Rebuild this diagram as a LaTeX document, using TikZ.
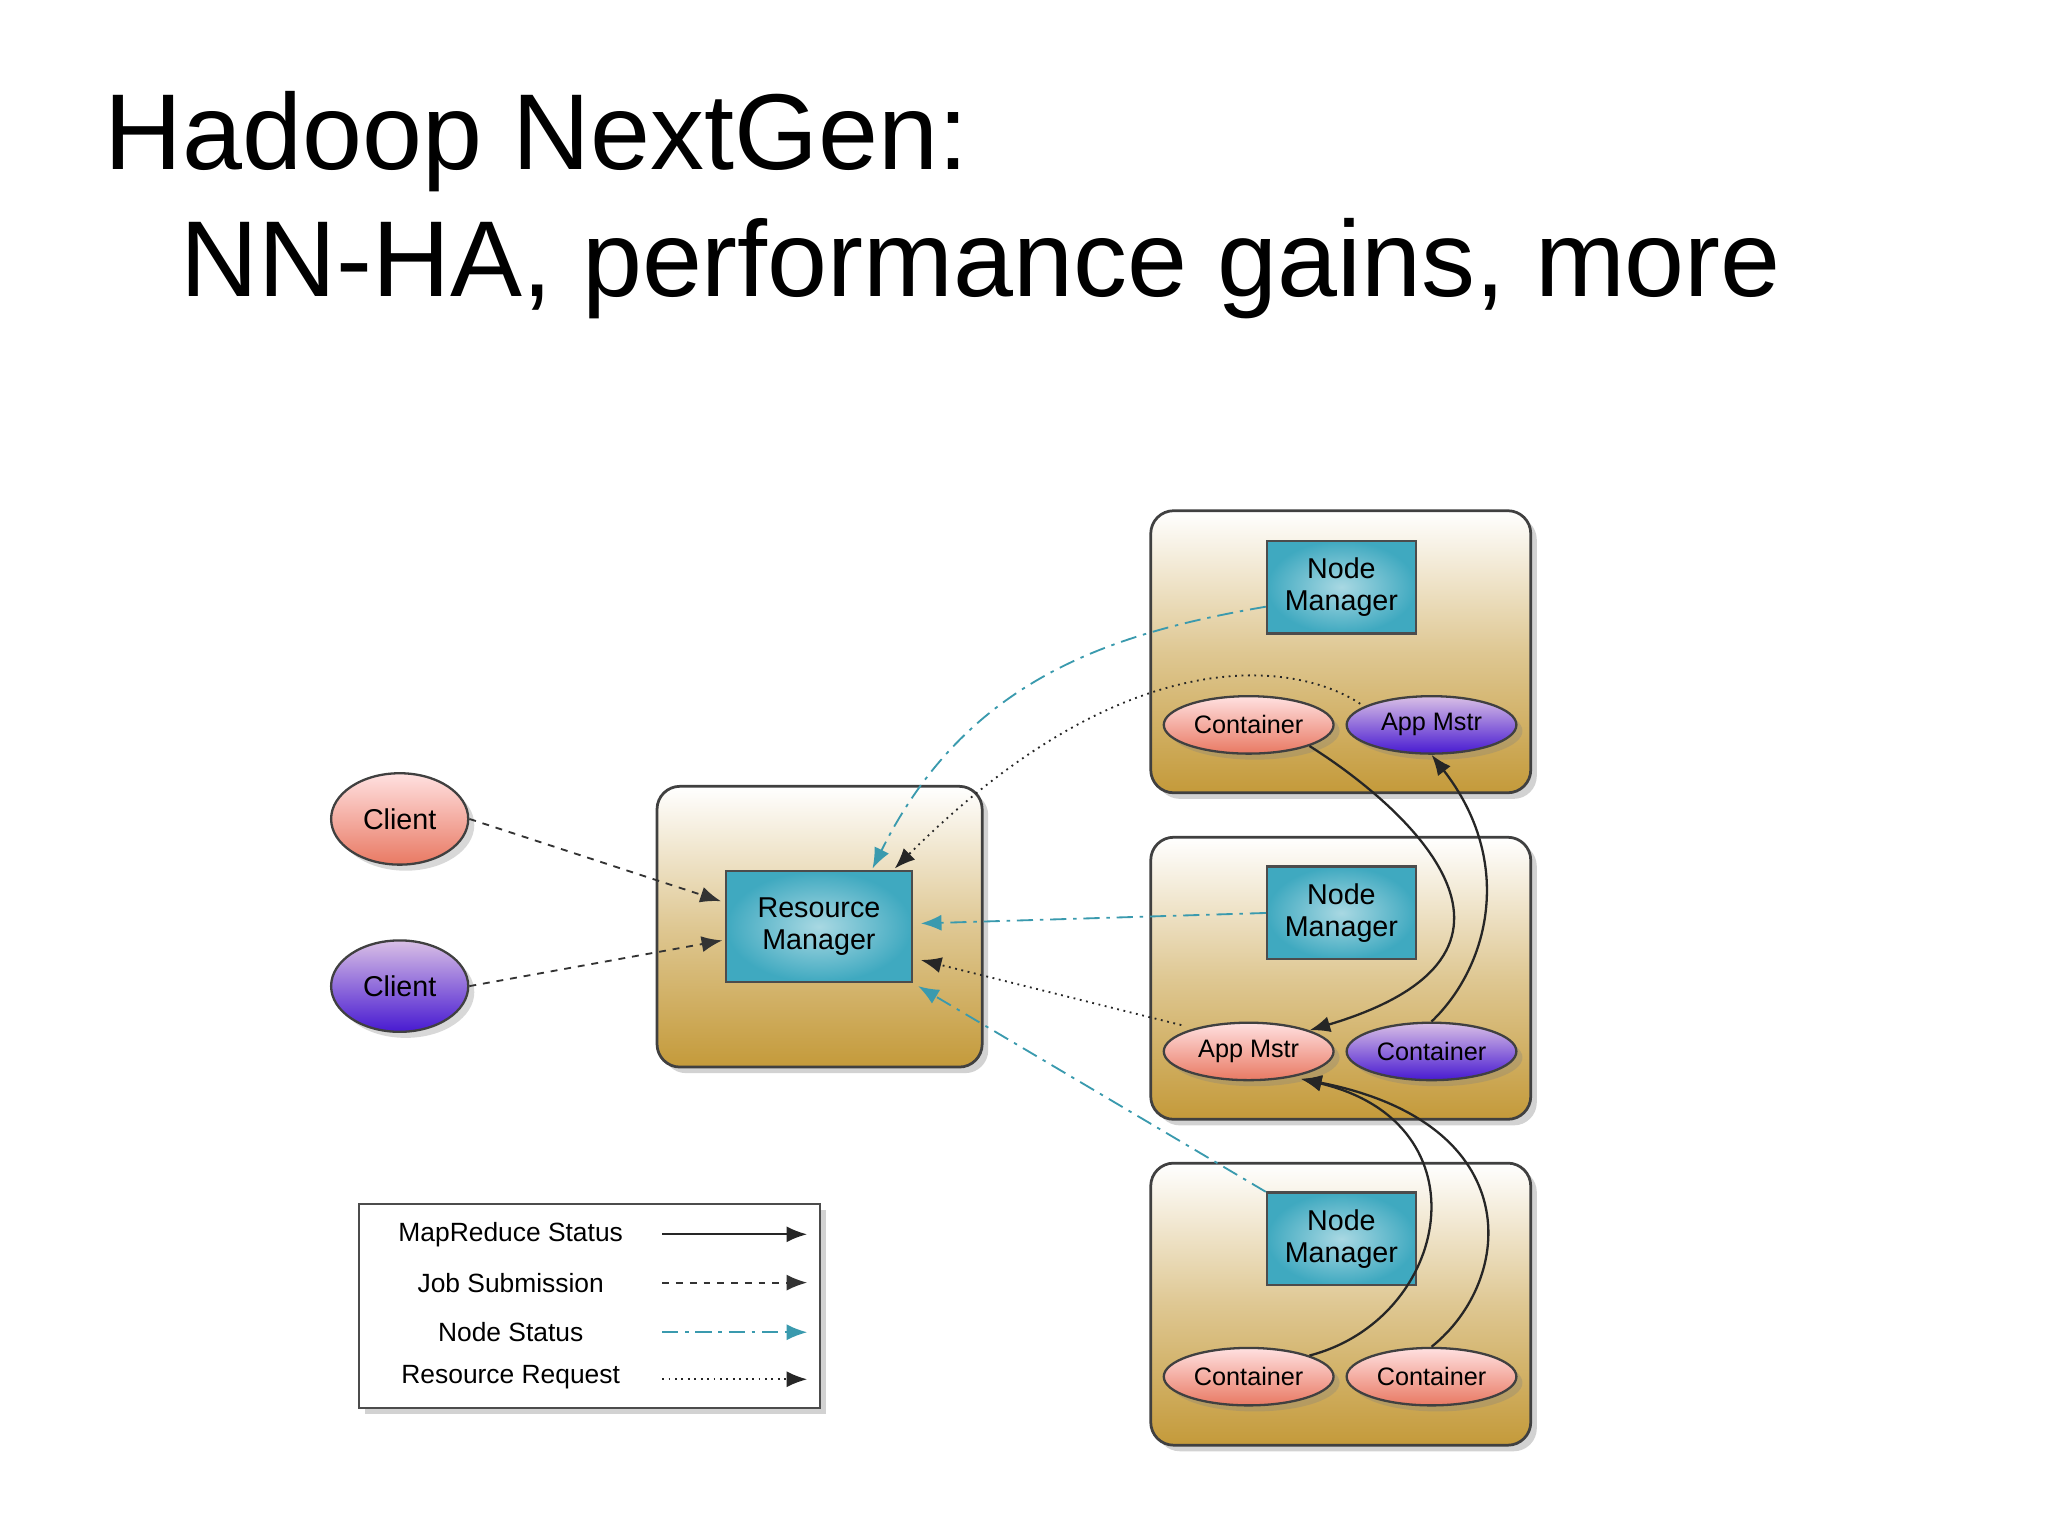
\documentclass[tikz,border=0pt]{standalone}
\usepackage{fontspec}
\setmainfont{Liberation Sans}
\usetikzlibrary{arrows.meta,shadows,shapes.geometric}
\definecolor{gold}{HTML}{C49A3A}
\definecolor{teal}{HTML}{3FA9C0}
\definecolor{nsline}{HTML}{3A9AAE}
\tikzset{
  host/.style={draw=black!75,line width=1.2pt,rounded corners=10pt,top color=white,bottom color=gold,middle color=gold!55,drop shadow={opacity=0.35}},
  mgr/.style={draw=black!70,line width=1pt,fill=teal!80,inner color=teal!45,outer color=teal,font=\fontsize{12.5}{14}\selectfont,align=center,minimum width=2.28cm,minimum height=1.42cm},
  pinkell/.style={ellipse,draw=black!75,line width=1pt,top color=red!12,bottom color=red!50!brown!70,minimum width=2.6cm,minimum height=0.88cm,inner sep=0pt,font=\fontsize{11}{13}\selectfont,drop shadow={opacity=0.3}},
  purpell/.style={pinkell,top color=blue!20!violet!25,bottom color=blue!60!violet!90},
  tip/.style={-{Latex[length=9pt,width=7pt]}},
  mrs/.style={tip,line width=1pt,black!85},
  jobs/.style={tip,line width=0.8pt,dashed,black!80},
  nstat/.style={tip,line width=0.8pt,dash pattern=on 7pt off 3pt on 1.5pt off 3pt,nsline},
  rreq/.style={tip,line width=0.8pt,dotted,black!85},
  legtxt/.style={font=\fontsize{11.5}{13}\selectfont}
}
\begin{document}
\begin{tikzpicture}[x=0.02cm,y=-0.02cm]
\useasboundingbox[fill=white] (0,0) rectangle (1568,1175);
\node[anchor=base west,font=\fontsize{47}{56}\selectfont,inner sep=0] (t1) at (80,130) {Hadoop NextGen:};
\node[anchor=base west,font=\fontsize{47}{56}\selectfont,inner sep=0] (t2) at (138,227) {NN-HA, performance gains, more};

% hosts
\node[host,minimum width=4.98cm,minimum height=4.3cm] (rmbox) at (627.5,709.5) {};
\node[host,minimum width=5.82cm,minimum height=4.32cm] (h1) at (1026.5,499) {};
\node[host,minimum width=5.82cm,minimum height=4.32cm] (h2) at (1026.5,749) {};
\node[host,minimum width=5.82cm,minimum height=4.32cm] (h3) at (1026.5,998.5) {};

\node[mgr,minimum width=2.84cm,minimum height=1.7cm] (rm) at (627,709.5) {Resource\\Manager};
\node[mgr] (nm1) at (1027,449.5) {Node\\Manager};
\node[mgr] (nm2) at (1027,699) {Node\\Manager};
\node[mgr] (nm3) at (1027,948.5) {Node\\Manager};

\node[pinkell] (c1) at (956,555) {Container};
\node[purpell] (am1) at (1096,555) {App Mstr};
\node[pinkell] (am2) at (956,805) {App Mstr};
\node[purpell] (c2) at (1096,805) {Container};
\node[pinkell] (c3a) at (956,1054) {Container};
\node[pinkell] (c3b) at (1096,1054) {Container};

\node[pinkell,minimum width=2.1cm,minimum height=1.4cm,font=\fontsize{12.5}{14}\selectfont] (cl1) at (306,627) {Client};
\node[purpell,minimum width=2.1cm,minimum height=1.4cm,font=\fontsize{12.5}{14}\selectfont] (cl2) at (306,755) {Client};

% job submission
\draw[jobs] (cl1.east) -- (552,690);
\draw[jobs] (cl2.east) -- (553,720);
\coordinate (rmt1) at (668,665);
\coordinate (rmt2) at (685,665);
% node status
\draw[nstat] (nm1.west) ++(0,15) .. controls (850,485) and (740,520) .. (rmt1);
\draw[nstat] (nm2.west) -- (705,707);
\draw[nstat] (nm3.west) ++(0,-36) -- (703,755);
% resource requests
\draw[rreq] (am1.north west) ++(-8,0) .. controls (990,505) and (860,490) .. (rmt2);
\draw[rreq] (am2.north west) ++(-5,-4) -- (705,735);
% mapreduce status
\draw[mrs] (c1.south east) .. controls (1080,620) and (1200,730) .. (am2.north east);
\draw[mrs] (c2.north) .. controls (1140,740) and (1160,660) .. (am1.south);
\draw[mrs] (c3a.north east) .. controls (1110,1010) and (1140,860) .. (996,826);
\draw[mrs] (c3b.north) .. controls (1160,980) and (1170,860) .. (996,826);

% legend
\node[draw=black!70,line width=1pt,fill=white,minimum width=7.06cm,minimum height=3.12cm,drop shadow={opacity=0.35}] (leg) at (451.5,1000) {};
\node[legtxt] (l1) at (391,945) {MapReduce Status};
\node[legtxt] (l2) at (391,982) {Job Submission};
\node[legtxt] (l3) at (391,1020) {Node Status};
\node[legtxt] (l4) at (391,1054) {Resource Request};
\coordinate (a1) at (507,945); \coordinate (b1) at (618,945);
\coordinate (a2) at (507,982); \coordinate (b2) at (618,982);
\coordinate (a3) at (507,1020); \coordinate (b3) at (618,1020);
\coordinate (a4) at (507,1056); \coordinate (b4) at (618,1056);
\draw[mrs] (a1) -- (b1);
\draw[jobs] (a2) -- (b2);
\draw[nstat] (a3) -- (b3);
\draw[rreq] (a4) -- (b4);
\end{tikzpicture}
\end{document}
